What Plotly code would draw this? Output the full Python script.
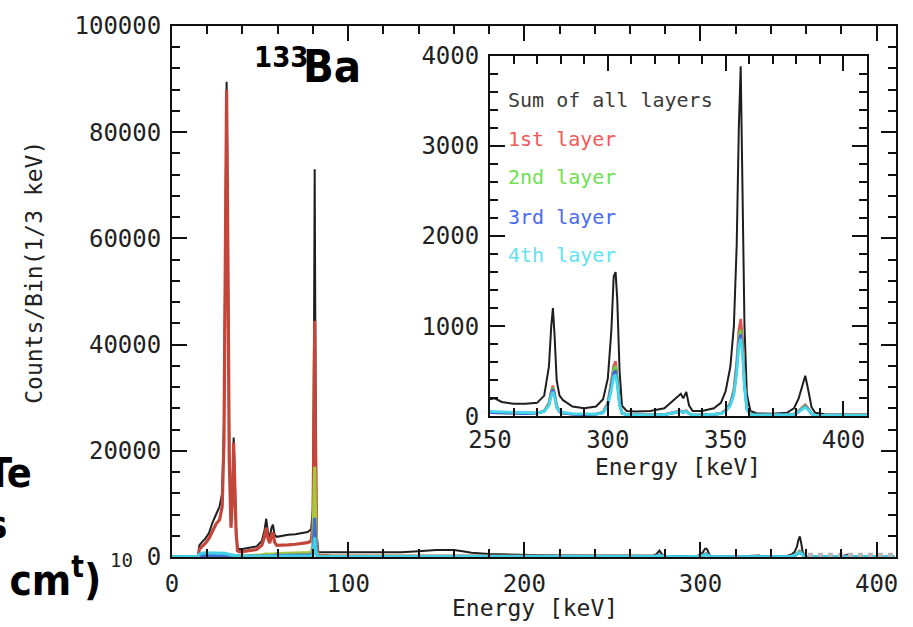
import plotly.graph_objects as go

# ---------------- data ----------------
energy = [0, 14, 15, 15.5, 17, 19, 21, 23, 25, 27, 28.5, 29.5, 30.3, 31, 31.7, 32.5, 33.5, 34.3, 35, 35.7,
          36.4, 37.2, 38, 40, 44, 48, 51, 52.5, 53.5, 54.5, 55.5, 56.5, 57.3, 58.2, 59.5, 62, 66, 70, 74, 77,
          79, 80, 80.6, 81, 81.4, 82, 83, 86, 90, 100, 110, 120, 130, 140, 145, 150, 155, 160, 165, 170,
          180, 190, 200, 210, 220, 230, 240, 250, 252, 255, 260, 265, 270, 273, 275, 276, 276.7, 277.4, 278.3, 279.5,
          281, 285, 290, 295, 298, 300, 301.5, 302.5, 303.3, 304, 305, 306, 308, 312, 318, 324, 327, 329, 331, 332,
          333.3, 334.5, 336, 340, 345, 348, 350, 352, 353.5, 354.7, 355.6, 356.4, 357.2, 358, 359, 360.5, 363, 370, 376, 379,
          381, 382.5, 383.8, 385, 386.5, 388, 392, 400, 410]

sum_all = [0, 0, 200, 2200, 2800, 3500, 4500, 6500, 8000, 9500, 12000, 25000, 60000, 89500, 60000, 20000, 6500, 12000, 22500, 15000,
           5000, 1800, 1500, 1500, 1700, 2000, 3000, 5000, 7200, 4500, 3800, 5500, 6100, 4200, 3800, 4000, 4200, 4300, 4500, 4700,
           5200, 9000, 40000, 73000, 40000, 5000, 900, 900, 850, 800, 800, 850, 900, 1100, 1250, 1300, 1300, 1300, 1100, 800,
           550, 450, 400, 330, 300, 270, 240, 190, 200, 160, 140, 140, 150, 230, 550, 1000, 1200, 900, 400, 230,
           180, 110, 90, 110, 190, 420, 950, 1550, 1600, 1300, 500, 120, 60, 55, 60, 90, 160, 210, 250, 200,
           270, 120, 60, 60, 90, 150, 280, 550, 1000, 1900, 3200, 3880, 2600, 1000, 250, 60, 35, 30, 40, 90,
           200, 350, 450, 300, 100, 40, 25, 20, 20]

layer1 = [0, 0, 100, 1500, 2000, 2600, 3500, 5000, 6200, 7000, 9500, 22000, 57000, 88000, 58000, 18000, 5500, 11000, 21500, 14000,
          4500, 1200, 1000, 1000, 1200, 1400, 2200, 3800, 5500, 3500, 2600, 4200, 4600, 2800, 2200, 2200, 2300, 2400, 2500, 2700,
          3000, 6000, 25000, 44500, 25000, 3000, 300, 250, 200, 180, 170, 160, 160, 160, 160, 160, 150, 150, 140, 130,
          120, 110, 100, 90, 80, 80, 70, 45, 45, 40, 40, 35, 40, 60, 150, 280, 340, 260, 120, 60,
          40, 25, 20, 25, 50, 150, 380, 560, 610, 450, 150, 40, 20, 15, 15, 20, 40, 50, 60, 50,
          65, 30, 15, 15, 20, 35, 70, 150, 300, 600, 950, 1080, 850, 400, 100, 25, 15, 15, 15, 25,
          60, 100, 130, 90, 30, 15, 10, 10, 10]

layer2 = [0, 0, 0, 50, 80, 100, 100, 120, 120, 150, 200, 300, 400, 500, 400, 300, 250, 250, 300, 250,
          200, 150, 150, 150, 200, 300, 400, 500, 600, 500, 500, 600, 600, 600, 650, 700, 700, 750, 800, 800,
          900, 2000, 9000, 17000, 9000, 1000, 150, 120, 100, 100, 100, 100, 100, 100, 100, 100, 100, 100, 90, 80,
          80, 70, 70, 60, 60, 60, 55, 40, 40, 35, 35, 30, 35, 55, 140, 260, 320, 240, 110, 55,
          35, 25, 20, 25, 45, 140, 350, 520, 560, 420, 140, 35, 20, 15, 15, 20, 35, 45, 55, 45,
          60, 30, 15, 15, 20, 30, 65, 140, 280, 550, 880, 960, 780, 370, 90, 25, 15, 15, 15, 25,
          55, 90, 120, 85, 30, 15, 10, 10, 10]

layer3 = [0, 0, 50, 200, 300, 300, 300, 300, 300, 300, 300, 300, 300, 300, 300, 300, 250, 250, 250, 250,
          200, 150, 150, 100, 100, 150, 150, 200, 200, 200, 200, 200, 250, 250, 300, 300, 300, 300, 350, 350,
          400, 800, 4000, 7400, 4000, 500, 100, 80, 80, 70, 70, 70, 70, 70, 70, 70, 70, 70, 60, 60,
          60, 50, 50, 50, 50, 50, 50, 40, 40, 35, 35, 30, 35, 55, 130, 250, 300, 230, 100, 50,
          35, 25, 20, 25, 40, 130, 320, 480, 510, 380, 130, 35, 20, 15, 15, 20, 35, 45, 55, 45,
          55, 30, 15, 15, 20, 30, 60, 130, 260, 520, 830, 910, 730, 340, 85, 20, 15, 15, 15, 20,
          50, 85, 110, 80, 25, 15, 10, 10, 10]

layer4 = [0, 0, 100, 500, 700, 800, 800, 800, 800, 700, 700, 700, 700, 600, 600, 500, 400, 400, 400, 300,
          250, 200, 150, 100, 100, 100, 100, 100, 100, 100, 100, 100, 100, 100, 150, 150, 150, 150, 150, 150,
          200, 400, 2000, 3700, 2000, 300, 80, 60, 60, 60, 60, 60, 60, 60, 60, 60, 60, 60, 50, 50,
          50, 50, 50, 50, 50, 50, 50, 55, 55, 50, 45, 40, 40, 55, 120, 230, 270, 210, 100, 60,
          45, 30, 25, 25, 40, 120, 290, 440, 460, 350, 120, 35, 20, 15, 15, 20, 35, 45, 55, 45,
          55, 30, 15, 15, 20, 30, 55, 120, 240, 480, 780, 860, 690, 320, 80, 20, 15, 15, 15, 20,
          50, 80, 100, 75, 25, 15, 10, 10, 10]

artifact_energy = [361, 411]
artifact_counts = [350, 350]

legend_labels = ["Sum of all layers", "1st layer", "2nd layer", "3rd layer", "4th layer"]

main_x_ticks = [0, 100, 200, 300, 400]
main_y_ticks = [0, 20000, 40000, 60000, 80000, 100000]
inset_x_ticks = [250, 300, 350, 400]
inset_y_ticks = [0, 1000, 2000, 3000, 4000]

for s in (sum_all, layer1, layer2, layer3, layer4):
    assert len(s) == len(energy)

# ---------------- styling ----------------
W, H = 913, 627
L, R, T, B = 172, 17, 17, 70
PW, PH = W - L - R, H - T - B


def px(x):
    return (x - L) / PW


def py(y):
    return (H - B - y) / PH


MONO = "DejaVu Sans Mono"
COND = "DejaVu Sans Condensed, Liberation Sans Narrow, Roboto, Arial, sans-serif"
INK = "#222222"

main_colors = ["#1e1e1e", "#c4463a", "#a6c83c", "#3b6fd2", "#42cfe6"]
main_widths = [2.0, 3.2, 3.2, 3.2, 3.2]
inset_colors = ["#1e1e1e", "#e25252", "#62d046", "#4a62e2", "#45d8ea"]
inset_widths = [2.0, 2.6, 2.6, 2.6, 2.8]
legend_colors = ["#3a3a3a", "#f05a5a", "#6ee052", "#4a6af0", "#62e2f2"]

series = [sum_all, layer1, layer2, layer3, layer4]

fig = go.Figure()

for name, vals, c, w in zip(legend_labels, series, main_colors, main_widths):
    fig.add_trace(go.Scatter(x=energy, y=vals, mode="lines", name=name,
                             line=dict(color=c, width=w), xaxis="x", yaxis="y",
                             showlegend=False))

fig.add_trace(go.Scatter(x=artifact_energy, y=artifact_counts, mode="lines",
                         line=dict(color="#b5b5b5", width=5, dash="dot"),
                         xaxis="x", yaxis="y", showlegend=False, hoverinfo="skip"))

for name, vals, c, w in zip(legend_labels, series, inset_colors, inset_widths):
    fig.add_trace(go.Scatter(x=energy, y=vals, mode="lines", name=name,
                             line=dict(color=c, width=w), xaxis="x2", yaxis="y2",
                             showlegend=False))

tickfont = dict(family=MONO, size=24, color=INK)
axis_common = dict(showline=True, linecolor="#111111", linewidth=2, mirror="allticks",
                   ticks="inside", ticklen=15, tickwidth=1.5, tickcolor="#111111",
                   showgrid=False, zeroline=False, tickfont=tickfont)

fig.update_layout(
    width=W, height=H,
    margin=dict(l=L, r=R, t=T, b=B),
    paper_bgcolor="white", plot_bgcolor="white",
    xaxis=dict(range=[0, 411], tickvals=main_x_ticks, ticktext=[str(v) for v in main_x_ticks],
               minor=dict(dtick=20, ticks="inside", ticklen=8, tickwidth=1.5, tickcolor="#111111"),
               ticklabelstandoff=4, domain=[0, 1], **axis_common),
    yaxis=dict(range=[0, 100000], tickvals=main_y_ticks, ticktext=[str(v) for v in main_y_ticks],
               minor=dict(dtick=4000, ticks="inside", ticklen=8, tickwidth=1.5, tickcolor="#111111"),
               ticklabelstandoff=4, domain=[0, 1], **axis_common),
    xaxis2=dict(range=[250, 410], tickvals=inset_x_ticks, ticktext=[str(v) for v in inset_x_ticks],
                minor=dict(dtick=10, ticks="inside", ticklen=8, tickwidth=1.5, tickcolor="#111111"),
                ticklabelstandoff=1, anchor="y2", domain=[px(490), px(867)], **axis_common),
    yaxis2=dict(range=[0, 4000], tickvals=inset_y_ticks, ticktext=[str(v) for v in inset_y_ticks],
                minor=dict(dtick=200, ticks="inside", ticklen=8, tickwidth=1.5, tickcolor="#111111"),
                ticklabelstandoff=4, anchor="x2", domain=[py(414), py(47)], **axis_common),
)

ann = []
# axis titles
ann.append(dict(text="Energy [keV]", x=px(535), y=py(609), font=dict(family=MONO, size=23, color=INK)))
ann.append(dict(text="Counts/Bin(1/3 keV)", x=px(34), y=py(268), textangle=-90,
                font=dict(family=MONO, size=23, color=INK)))
ann.append(dict(text="Energy [keV]", x=px(678), y=py(465), font=dict(family=MONO, size=23, color=INK)))
# inset legend
for lab, col, yy in zip(legend_labels, legend_colors, [92, 132, 171, 211, 250]):
    ann.append(dict(text=lab, x=px(506), y=py(yy), xanchor="left",
                    font=dict(family=MONO, size=20, color=col)))
# isotope label
ann.append(dict(text="<b>133</b>", x=px(252), y=py(48.5), xanchor="left",
                font=dict(family=COND, size=29, color="black")))
ann.append(dict(text="<b>Ba</b>", x=px(301), y=py(58), xanchor="left",
                font=dict(family=COND, size=45, color="black")))
# cropped fragments at left edge
ann.append(dict(text="<b>Te</b>", x=px(34), y=py(472), xanchor="right",
                font=dict(family=COND, size=41, color="black")))
ann.append(dict(text="<b>s</b>", x=px(9), y=py(524), xanchor="right",
                font=dict(family=COND, size=38, color="black")))
ann.append(dict(text="<b>2 cm<sup>t</sup>)</b>", x=px(103), y=py(578), xanchor="right",
                font=dict(family=COND, size=42, color="black")))
ann.append(dict(text="10", x=px(121), y=py(560), font=dict(family=MONO, size=19, color=INK)))

for a in ann:
    a.update(xref="paper", yref="paper", showarrow=False)
    a.setdefault("xanchor", "center")
    a.setdefault("yanchor", "middle")
fig.update_layout(annotations=ann)

fig.write_html("out.html")
